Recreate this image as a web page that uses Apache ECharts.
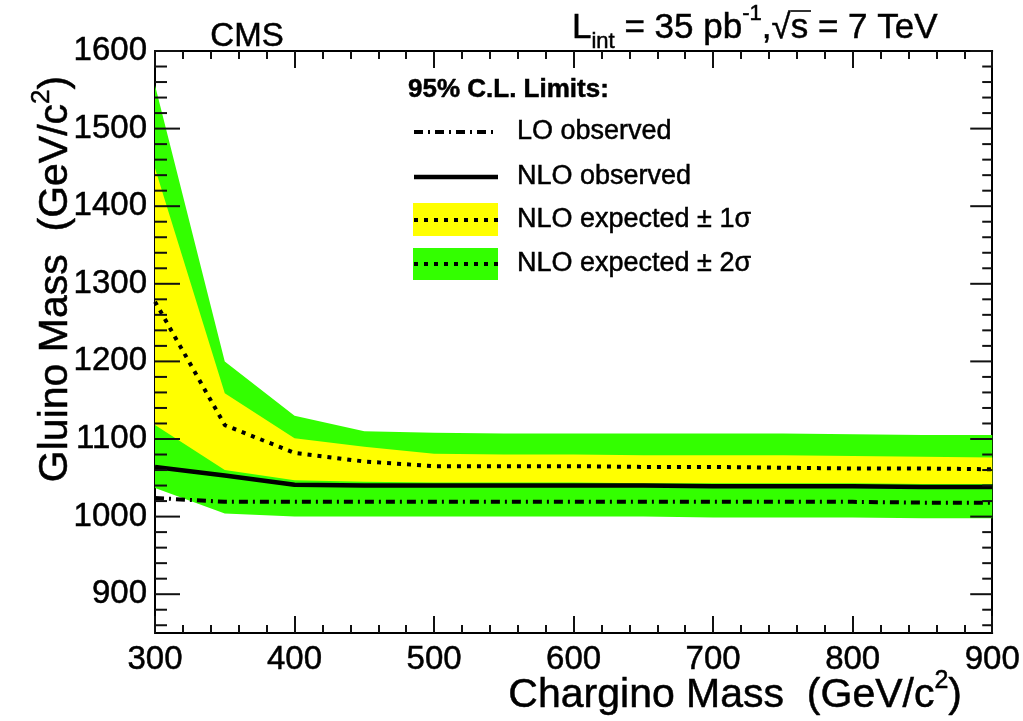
<!DOCTYPE html>
<html>
<head>
<meta charset="utf-8">
<script src="https://cdn.jsdelivr.net/npm/echarts@6/dist/echarts.min.js"></script>
<style>
  html, body { margin: 0; padding: 0; background: #ffffff; }
  #chart { width: 1023px; height: 721px; }
</style>
</head>
<body>
<div id="chart"></div>
<script>
// Chargino mass points (GeV/c^2)
const charginoMass = [300, 350, 400, 450, 500, 550, 600, 650, 700, 750, 800, 850, 900];

// Expected NLO limit and its +-1 sigma / +-2 sigma bands (gluino mass, GeV/c^2)
const expectedNLO   = [1277, 1118, 1082, 1071, 1065, 1065, 1065, 1064, 1064, 1063, 1062, 1062, 1061];
const oneSigmaUp    = [1449, 1159, 1101, 1090, 1081, 1080, 1080, 1079, 1079, 1079, 1078, 1077, 1076];
const oneSigmaDown  = [1118, 1060, 1047, 1045, 1044, 1044, 1044, 1043, 1043, 1043, 1043, 1042, 1042];
const twoSigmaUp    = [1556, 1200, 1130, 1110, 1108, 1107, 1107, 1107, 1107, 1107, 1106, 1105, 1105];
const twoSigmaDown  = [1037, 1004, 1000, 1000, 1000, 1000, 1000, 1000, 999, 999, 999, 998, 998];

// Observed limits
const observedNLO   = [1064, 1053, 1041, 1040, 1040, 1040, 1040, 1040, 1039, 1039, 1039, 1038, 1038];
const observedLO    = [1024, 1019, 1019, 1019, 1019, 1019, 1019, 1019, 1019, 1019, 1019, 1018, 1018];

// Axis tick labels
const xTickLabels = [300, 400, 500, 600, 700, 800, 900];
const yTickLabels = [900, 1000, 1100, 1200, 1300, 1400, 1500, 1600];

const FONT = '"Liberation Sans", Arial, Helvetica, sans-serif';
const GREEN = '#33ff00';
const YELLOW = '#ffff00';
// Thin outline that gives the glyphs a slightly heavier weight
const INK_LABEL = { textBorderColor: '#000', textBorderWidth: 0.5 };
const INK = { stroke: '#000', lineWidth: 0.5 };

const xMin = xTickLabels[0], xMax = xTickLabels[xTickLabels.length - 1];
const yMin = 850, yMax = yTickLabels[yTickLabels.length - 1];

// Y tick positions every 20 GeV; hundreds are major ticks
const yTicks = [];
for (let v = 860; v <= yMax; v += 20) yTicks.push(v);

function pairs(ys) { return charginoMass.map((m, i) => [m, ys[i]]); }

// Filled band between two boundaries, drawn as one polygon through the axes
function bandSeries(name, lo, hi, color) {
  return {
    type: 'custom', name: name, silent: true, clip: true,
    data: charginoMass.map((m, i) => [m, lo[i], hi[i]]),
    encode: { x: 0, y: [1, 2] },
    renderItem: function (params, api) {
      if (params.dataIndex !== 0) return null;
      const pts = [];
      for (let i = 0; i < charginoMass.length; i++) pts.push(api.coord([charginoMass[i], hi[i]]));
      for (let i = charginoMass.length - 1; i >= 0; i--) pts.push(api.coord([charginoMass[i], lo[i]]));
      return { type: 'polygon', shape: { points: pts }, style: { fill: color } };
    }
  };
}

function lineSeries(name, ys, lineStyle) {
  return {
    type: 'line', name: name, data: pairs(ys), symbol: 'none', silent: true,
    lineStyle: Object.assign({ color: '#000000' }, lineStyle), z: 3
  };
}

const xAxisCommon = {
  type: 'value', min: xMin, max: xMax, interval: 100,
  axisLine: { show: true, onZero: false, lineStyle: { color: '#000', width: 2 } },
  axisTick: { show: true, inside: true, length: 17, lineStyle: { color: '#111', width: 2 } },
  minorTick: { show: true, splitNumber: 5, length: 8, lineStyle: { color: '#111', width: 2 } },
  splitLine: { show: false }, minorSplitLine: { show: false }
};

const yAxisCommon = {
  type: 'value', min: yMin, max: yMax, interval: 50,
  axisLine: { show: true, onZero: false, lineStyle: { color: '#000', width: 2 } },
  axisTick: { show: false },
  splitLine: { show: false }
};

function richText(extra) {
  return Object.assign({ fill: '#000' }, INK, extra);
}
function plainText(text, font, align) {
  return Object.assign({ text: text, fill: '#000', font: font, textAlign: align || 'left',
                         textVerticalAlign: 'middle' }, INK);
}

const chart = echarts.init(document.getElementById('chart'), null, { renderer: 'canvas' });

chart.setOption({
  backgroundColor: '#ffffff',
  animation: false,
  grid: { left: 155, right: 29, top: 51, bottom: 88, containLabel: false },
  xAxis: [
    Object.assign({}, xAxisCommon, {
      position: 'bottom',
      axisLabel: Object.assign({ show: true, margin: 10, color: '#000', fontSize: 33, fontFamily: FONT,
                   formatter: v => (xTickLabels.indexOf(v) >= 0 ? String(v) : '') }, INK_LABEL)
    }),
    Object.assign({}, xAxisCommon, { position: 'top', axisLabel: { show: false } })
  ],
  yAxis: [
    Object.assign({}, yAxisCommon, {
      position: 'left',
      axisLabel: Object.assign({ show: true, margin: 8, color: '#000', fontSize: 33, fontFamily: FONT,
                   formatter: v => (yTickLabels.indexOf(v) >= 0 ? String(v) : '') }, INK_LABEL)
    }),
    Object.assign({}, yAxisCommon, { position: 'right', axisLabel: { show: false } })
  ],
  series: [
    bandSeries('NLO expected ± 2σ', twoSigmaDown, twoSigmaUp, GREEN),
    bandSeries('NLO expected ± 1σ', oneSigmaDown, oneSigmaUp, YELLOW),
    lineSeries('NLO expected', expectedNLO, { width: 4, type: [4, 6] }),
    lineSeries('NLO observed', observedNLO, { width: 4.5, type: 'solid' }),
    lineSeries('LO observed', observedLO, { width: 4, type: [9, 5, 2, 5] }),
    {
      // Inward y ticks on the left and right frame edges
      type: 'custom', name: 'yTicks', silent: true, clip: false, z: 5,
      data: yTicks.map(v => [xMin, v]),
      encode: { x: 0, y: 1 },
      renderItem: function (params, api) {
        const v = api.value(1);
        const major = v % 100 === 0;
        const L = api.coord([xMin, v]);
        const R = api.coord([xMax, v]);
        const lenL = major ? 25 : 12, lenR = major ? 22 : 10;
        const st = { stroke: '#111', lineWidth: 2 };
        return {
          type: 'group', children: [
            { type: 'line', shape: { x1: L[0], y1: L[1], x2: L[0] + lenL, y2: L[1] }, style: st },
            { type: 'line', shape: { x1: R[0] - lenR, y1: R[1], x2: R[0], y2: R[1] }, style: st }
          ]
        };
      }
    }
  ],
  graphic: [
    // Experiment tag and luminosity / energy
    { type: 'text', x: 247, y: 37, style: plainText('CMS', '33px ' + FONT, 'center') },
    { type: 'text', x: 572, y: 28, style: {
        text: '{a|L}{sub|int}{a| = 35 pb}{sup|-1}{a|,√s = 7 TeV}',
        textAlign: 'left', textVerticalAlign: 'middle', fill: '#000',
        rich: {
          a:   richText({ fontSize: 35, fontFamily: FONT, lineHeight: 50, verticalAlign: 'middle' }),
          sub: richText({ fontSize: 22, fontFamily: FONT, lineHeight: 20, verticalAlign: 'bottom' }),
          sup: richText({ fontSize: 22, fontFamily: FONT, lineHeight: 26, verticalAlign: 'top' })
        } } },
    // Overline of the square root sign
    { type: 'line', shape: { x1: 791, y1: 11, x2: 811, y2: 11 }, style: { stroke: '#000', lineWidth: 1.6 } },

    // Axis titles
    { type: 'text', x: 962, y: 696, style: {
        text: '{a|Chargino Mass  (GeV/c}{s|2}{a|)}',
        textAlign: 'right', textVerticalAlign: 'middle', fill: '#000',
        rich: {
          a: richText({ fontSize: 41, fontFamily: FONT, lineHeight: 54, verticalAlign: 'middle' }),
          s: richText({ fontSize: 25, fontFamily: FONT, lineHeight: 27, verticalAlign: 'top' })
        } } },
    { type: 'text', x: 56, y: 279, rotation: Math.PI / 2, style: {
        text: '{a|Gluino Mass  (GeV/c}{s|2}{a|)}',
        textAlign: 'center', textVerticalAlign: 'middle', fill: '#000',
        rich: {
          a: richText({ fontSize: 41, fontFamily: FONT, lineHeight: 55, verticalAlign: 'middle' }),
          s: richText({ fontSize: 26, fontFamily: FONT, lineHeight: 28, verticalAlign: 'top' })
        } } },

    // Legend
    { type: 'text', x: 408, y: 90, style: plainText('95% C.L. Limits:', 'bold 26px ' + FONT) },

    { type: 'line', shape: { x1: 414, y1: 132, x2: 498, y2: 132 },
      style: { stroke: '#000', lineWidth: 4, lineDash: [9, 5, 2, 5] } },
    { type: 'text', x: 517, y: 132, style: plainText('LO observed', '27px ' + FONT) },

    { type: 'line', shape: { x1: 414, y1: 177, x2: 498, y2: 177 },
      style: { stroke: '#000', lineWidth: 4.5 } },
    { type: 'text', x: 517, y: 177, style: plainText('NLO observed', '27px ' + FONT) },

    { type: 'rect', shape: { x: 413, y: 203, width: 85, height: 33 }, style: { fill: YELLOW } },
    { type: 'line', shape: { x1: 414, y1: 220, x2: 498, y2: 220 },
      style: { stroke: '#000', lineWidth: 4, lineDash: [4, 6] } },
    { type: 'text', x: 517, y: 220, style: plainText('NLO expected ± 1σ', '27px ' + FONT) },

    { type: 'rect', shape: { x: 413, y: 248, width: 85, height: 32 }, style: { fill: GREEN } },
    { type: 'line', shape: { x1: 414, y1: 264, x2: 498, y2: 264 },
      style: { stroke: '#000', lineWidth: 4, lineDash: [4, 6] } },
    { type: 'text', x: 517, y: 264, style: plainText('NLO expected ± 2σ', '27px ' + FONT) }
  ]
});
</script>
</body>
</html>
